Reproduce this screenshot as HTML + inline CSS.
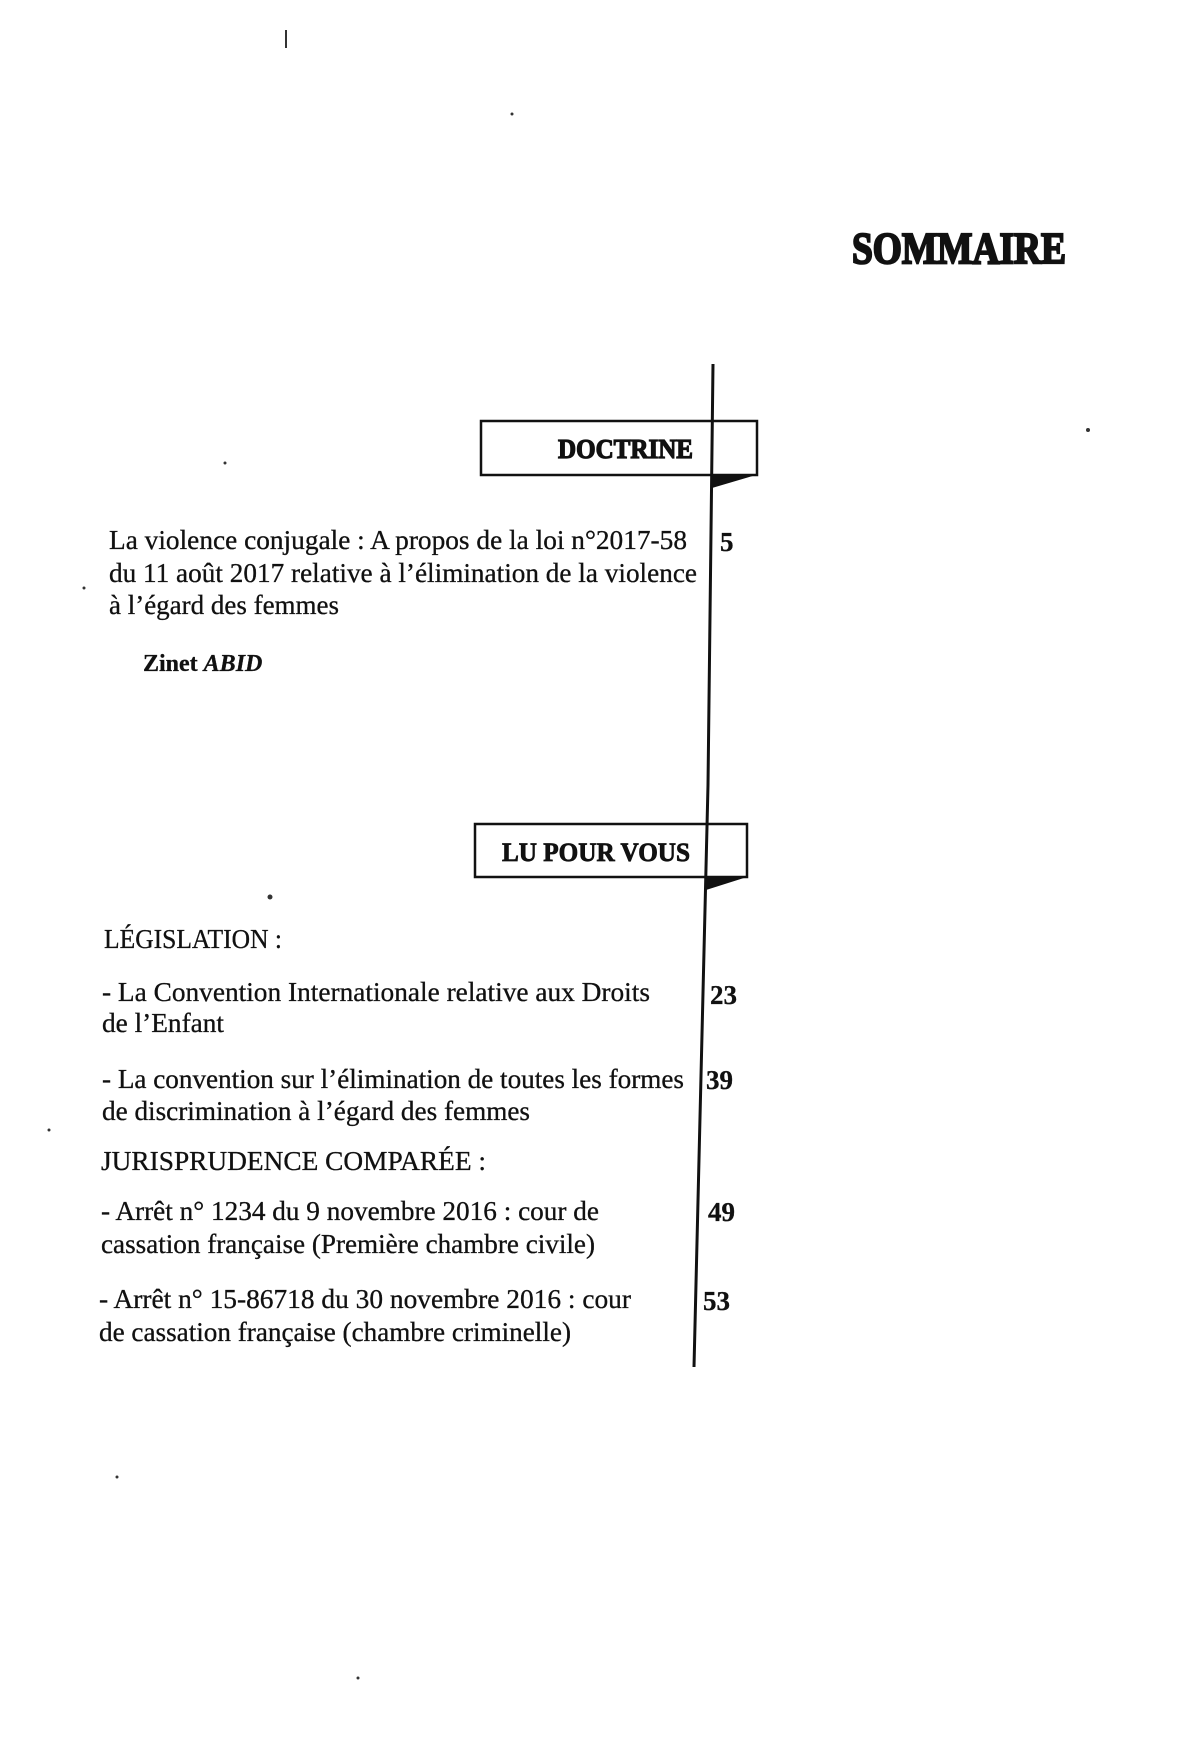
<!DOCTYPE html>
<html><head><meta charset="utf-8"><style>
html,body{margin:0;padding:0;background:#fff;}
svg{display:block;}
text{font-family:"Liberation Serif",serif;fill:#111;}
</style></head><body>
<svg width="1200" height="1759" viewBox="0 0 1200 1759" xmlns="http://www.w3.org/2000/svg">
<text x="852" y="263" font-size="44" font-weight="bold" stroke="#111" stroke-width="2.2" textLength="214" lengthAdjust="spacingAndGlyphs">SOMMAIRE</text>
<polyline points="713,364 708,785 694,1367" fill="none" stroke="#111" stroke-width="3"/>
<rect x="481" y="421" width="276" height="54" fill="none" stroke="#111" stroke-width="2.5"/>
<polygon points="712,475 756,475 712,488" fill="#111"/>
<text x="558" y="458" font-size="27" font-weight="bold" stroke="#111" stroke-width="1.2" textLength="135" lengthAdjust="spacingAndGlyphs">DOCTRINE</text>
<g font-size="27" stroke="#111" stroke-width="0.3">
<text x="109" y="549" textLength="578" lengthAdjust="spacingAndGlyphs">La violence conjugale : A propos de la loi n°2017-58</text>
<text x="109" y="582" textLength="588" lengthAdjust="spacingAndGlyphs">du 11 août 2017 relative à l’élimination de la violence</text>
<text x="109" y="614" textLength="230" lengthAdjust="spacingAndGlyphs">à l’égard des femmes</text>
<text x="720" y="551" font-weight="bold">5</text>
<text x="143" y="671" font-size="24" font-weight="bold">Zinet <tspan font-style="italic">ABID</tspan></text>
</g>
<rect x="475" y="824" width="272" height="53" fill="none" stroke="#111" stroke-width="2.5"/>
<polygon points="706,877 747,877 706,890" fill="#111"/>
<text x="502" y="861" font-size="26" font-weight="bold" stroke="#111" stroke-width="0.8" textLength="188" lengthAdjust="spacingAndGlyphs">LU POUR VOUS</text>
<g font-size="27" stroke="#111" stroke-width="0.3">
<text x="104" y="948" textLength="178" lengthAdjust="spacingAndGlyphs">LÉGISLATION :</text>
<text x="102" y="1001" textLength="548" lengthAdjust="spacingAndGlyphs">- La Convention Internationale relative aux Droits</text>
<text x="102" y="1032" textLength="122" lengthAdjust="spacingAndGlyphs">de l’Enfant</text>
<text x="710" y="1004" font-weight="bold">23</text>
<text x="102" y="1088" textLength="582" lengthAdjust="spacingAndGlyphs">- La convention sur l’élimination de toutes les formes</text>
<text x="102" y="1120" textLength="428" lengthAdjust="spacingAndGlyphs">de discrimination à l’égard des femmes</text>
<text x="706" y="1089" font-weight="bold">39</text>
<text x="101" y="1170" textLength="385" lengthAdjust="spacingAndGlyphs">JURISPRUDENCE COMPARÉE :</text>
<text x="101" y="1220" textLength="498" lengthAdjust="spacingAndGlyphs">- Arrêt n° 1234 du 9 novembre 2016 : cour de</text>
<text x="101" y="1253" textLength="494" lengthAdjust="spacingAndGlyphs">cassation française (Première chambre civile)</text>
<text x="708" y="1221" font-weight="bold">49</text>
<text x="99" y="1308" textLength="532" lengthAdjust="spacingAndGlyphs">- Arrêt n° 15-86718 du 30 novembre 2016 : cour</text>
<text x="99" y="1341" textLength="472" lengthAdjust="spacingAndGlyphs">de cassation française (chambre criminelle)</text>
<text x="703" y="1310" font-weight="bold">53</text>
</g>
<g fill="#333">
<rect x="285" y="30" width="2" height="18"/><circle cx="512" cy="114" r="1.5"/><circle cx="1088" cy="430" r="2"/>
<circle cx="84" cy="588" r="1.5"/><circle cx="270" cy="897" r="2.5"/><circle cx="117" cy="1477" r="1.5"/>
<circle cx="358" cy="1678" r="1.5"/><circle cx="225" cy="463" r="1.5"/><circle cx="49" cy="1130" r="1.5"/>
</g>
</svg>
</body></html>
